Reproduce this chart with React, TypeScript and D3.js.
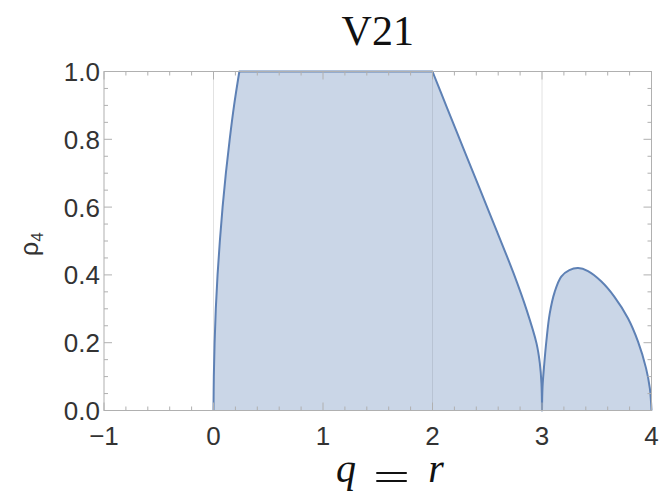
import React from "react";
import * as d3 from "d3";

// Chart text
const title = "V21";
const yLabel = "ρ";
const yLabelSub = "4";

// Axis ticks
const xTicks = [-1, 0, 1, 2, 3, 4];
const yTicks = [0, 0.2, 0.4, 0.6, 0.8, 1.0];
const xMinorStep = 0.2;
const yMinorStep = 0.05;

// Faint vertical guide lines at region boundaries
const gridQ = [0, 2, 3];

// Boundary of the allowed region, piece by piece
const edgeQ = [0, 0.003, 0.01, 0.021, 0.037, 0.058, 0.083, 0.113, 0.148, 0.188, 0.236];
const edgeRho = [0, 0.1, 0.2, 0.3, 0.4, 0.5, 0.6, 0.7, 0.8, 0.9, 1.0];

const plateauQ = [0.236, 2.0];
const plateauRho = [1.0, 1.0];

const descentQ = [2.0, 2.13, 2.28, 2.43, 2.59, 2.74, 2.86, 2.95, 2.98, 2.995, 3.0];
const descentRho = [1.0, 0.895, 0.775, 0.655, 0.527, 0.405, 0.296, 0.198, 0.14, 0.08, 0];

const lobeQ = [3.0, 3.005, 3.02, 3.04, 3.07, 3.116, 3.176, 3.25, 3.33, 3.42, 3.54, 3.66, 3.785, 3.877, 3.95, 3.985, 4.0];
const lobeRho = [0, 0.07, 0.135, 0.205, 0.285, 0.35, 0.395, 0.414, 0.42, 0.411, 0.381, 0.336, 0.272, 0.203, 0.125, 0.065, 0];

const W = 661;
const H = 492;

const x = d3.scaleLinear().domain([-1, 4]).range([104, 651.5]);
const y = d3.scaleLinear().domain([0, 1]).range([410.5, 71.5]);

type Pt = [number, number];
const zip = (qs: number[], rs: number[]): Pt[] => qs.map((q, i) => [q, rs[i]]);

const smooth = d3
  .line<Pt>()
  .x((d) => x(d[0]))
  .y((d) => y(d[1]))
  .curve(d3.curveCatmullRom.alpha(0.5));
const straight = d3
  .line<Pt>()
  .x((d) => x(d[0]))
  .y((d) => y(d[1]));

const segments: string[] = [
  smooth(zip(edgeQ, edgeRho)) || "",
  straight(zip(plateauQ, plateauRho)) || "",
  smooth(zip(descentQ, descentRho)) || "",
  smooth(zip(lobeQ, lobeRho)) || "",
];

// Join the pieces into a single outline (later "M" commands become "L")
const outline = segments
  .map((s, i) => (i === 0 ? s : "L" + s.slice(1)))
  .join("");
const fillPath = `${outline}L${x(4)},${y(0)}L${x(0)},${y(0)}Z`;

const LINE = "#5e81b5";
const FILL = "#cad6e7";
const FRAME = "#b0b0b0";
const TICK_TEXT = "#333";

export default function App() {
  const x0 = x.range()[0];
  const x1 = x.range()[1];
  const yb = y.range()[0];
  const yt = y.range()[1];

  const xMinor = d3
    .range(-1, 4 + 1e-9, xMinorStep)
    .filter((v) => Math.abs(v - Math.round(v)) > 1e-6);
  const yMinor = d3
    .range(0, 1 + 1e-9, yMinorStep)
    .filter((v) => Math.abs(v * 5 - Math.round(v * 5)) > 1e-6);

  const majorLen = 8;
  const minorLen = 4;

  return (
    <svg
      width={W}
      height={H}
      style={{ position: "absolute", left: 0, top: 0, background: "#fff" }}
    >
      <defs>
        <clipPath id="regionClip">
          <path d={fillPath} />
        </clipPath>
      </defs>

      {/* guide lines over the white background */}
      {gridQ.map((q) => (
        <line key={"g" + q} x1={x(q)} x2={x(q)} y1={yt} y2={yb} stroke="#e2e2e2" strokeWidth={1} />
      ))}

      {/* filled region */}
      <path d={fillPath} fill={FILL} stroke="none" />
      <g clipPath="url(#regionClip)">
        {gridQ.map((q) => (
          <line key={"gi" + q} x1={x(q)} x2={x(q)} y1={yt} y2={yb} stroke="#b8c3d3" strokeWidth={1} />
        ))}
      </g>
      <path d={outline} fill="none" stroke={LINE} strokeWidth={2} strokeLinejoin="round" />

      {/* frame */}
      <rect x={x0} y={yt} width={x1 - x0} height={yb - yt} fill="none" stroke={FRAME} strokeWidth={1} />

      {/* x ticks, bottom and top */}
      {xTicks.map((v) => (
        <g key={"xt" + v}>
          <line x1={x(v)} x2={x(v)} y1={yb} y2={yb - majorLen} stroke={FRAME} />
          <line x1={x(v)} x2={x(v)} y1={yt} y2={yt + majorLen} stroke={FRAME} />
        </g>
      ))}
      {xMinor.map((v) => (
        <g key={"xm" + v}>
          <line x1={x(v)} x2={x(v)} y1={yb} y2={yb - minorLen} stroke={FRAME} />
          <line x1={x(v)} x2={x(v)} y1={yt} y2={yt + minorLen} stroke={FRAME} />
        </g>
      ))}
      {/* y ticks, left and right */}
      {yTicks.map((v) => (
        <g key={"yt" + v}>
          <line x1={x0} x2={x0 + majorLen} y1={y(v)} y2={y(v)} stroke={FRAME} />
          <line x1={x1} x2={x1 - majorLen} y1={y(v)} y2={y(v)} stroke={FRAME} />
        </g>
      ))}
      {yMinor.map((v) => (
        <g key={"ym" + v}>
          <line x1={x0} x2={x0 + minorLen} y1={y(v)} y2={y(v)} stroke={FRAME} />
          <line x1={x1} x2={x1 - minorLen} y1={y(v)} y2={y(v)} stroke={FRAME} />
        </g>
      ))}

      {/* tick labels */}
      {xTicks.map((v) => (
        <text
          key={"xl" + v}
          x={x(v)}
          y={445}
          textAnchor="middle"
          fontFamily="'Liberation Sans', Arial, sans-serif"
          fontSize={26}
          fill={TICK_TEXT}
        >
          {v < 0 ? "\u2212" + Math.abs(v) : String(v)}
        </text>
      ))}
      {yTicks.map((v) => (
        <text
          key={"yl" + v}
          x={100}
          y={y(v) + 9.5}
          textAnchor="end"
          fontFamily="'Liberation Sans', Arial, sans-serif"
          fontSize={26}
          fill={TICK_TEXT}
        >
          {v.toFixed(1)}
        </text>
      ))}

      {/* title */}
      <text
        x={(x0 + x1) / 2}
        y={45}
        textAnchor="middle"
        fontFamily="'Liberation Serif', 'Times New Roman', serif"
        fontSize={42}
        fill="#111"
      >
        {title}
      </text>

      {/* y axis label */}
      <text
        transform="translate(38,256) rotate(-90)"
        fontFamily="'Liberation Sans', Arial, sans-serif"
        fontSize={25}
        fill={TICK_TEXT}
      >
        {yLabel}
        <tspan fontSize={17} dy={5}>
          {yLabelSub}
        </tspan>
      </text>

      {/* x axis label: q = r */}
      <g fontFamily="'Liberation Serif', 'Times New Roman', serif" fill="#111">
        <text x={346} y={482} textAnchor="middle" fontStyle="italic" fontSize={40}>
          q
        </text>
        <text
          x={373}
          y={491}
          fontSize={40}
          textLength={37}
          lengthAdjust="spacingAndGlyphs"
        >
          =
        </text>
        <text x={436} y={482} textAnchor="middle" fontStyle="italic" fontSize={40}>
          r
        </text>
      </g>
    </svg>
  );
}
